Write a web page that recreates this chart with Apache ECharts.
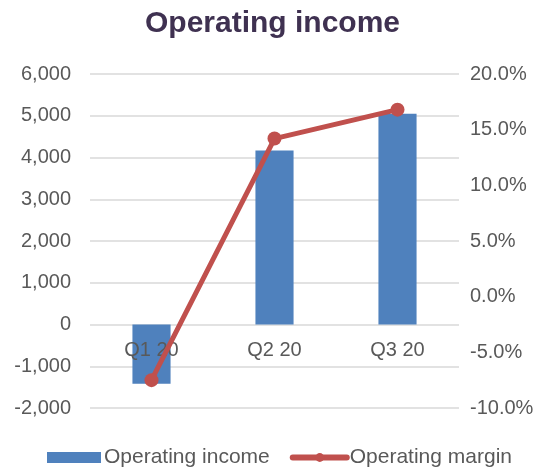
<!DOCTYPE html>
<html lang="en">
<head>
    <meta charset="UTF-8">
    <title>Operating income</title>
    <script src="https://cdn.jsdelivr.net/npm/echarts@6.0.0/dist/echarts.min.js"></script>
    <style>
        body { margin: 0; padding: 0; background: #ffffff; }
        #chart { width: 545px; height: 467px; }
    </style>
</head>
<body>
    <div id="chart"></div>
    <script>
        // данные графика
        const quarters = ['Q1 20', 'Q2 20', 'Q3 20'];
        const operatingIncome = [-1420, 4165, 5045];
        const operatingMargin = [-7.5, 14.2, 16.8]; // в процентах

        const font = "'Liberation Sans', Arial, sans-serif";
        const grey = '#595959';

        let chart = echarts.init(document.getElementById('chart'));

        let option = {
            backgroundColor: '#ffffff',
            animation: false,
            title: {
                text: 'Operating income',
                left: 'center',
                top: 4,
                textStyle: { color: '#3f3151', fontSize: 30, fontWeight: 'bold', fontFamily: font }
            },
            legend: {
                top: 447,
                left: 47,
                padding: 0,
                itemGap: 20,
                itemWidth: 54,
                itemHeight: 11,
                textStyle: { color: grey, fontSize: 21, fontFamily: font, padding: [0, 0, 0, -2] },
                data: [
                    { name: 'Operating income', icon: 'rect' },
                    { name: 'Operating margin', lineStyle: { width: 6, cap: 'round' } }
                ]
            },
            grid: {
                left: 90,
                right: 86,
                top: 74,
                bottom: 59,
                containLabel: false
            },
            xAxis: {
                type: 'category',
                data: quarters,
                position: 'bottom',
                offset: -83.5, // ось проходит по нулю левой шкалы
                z: 3, // подписи поверх столбцов, под линией
                axisLine: { show: false, onZero: false },
                axisTick: { show: false },
                axisLabel: { color: grey, fontSize: 20, fontFamily: font, margin: 16 }
            },
            yAxis: [
                {
                    type: 'value',
                    min: -2000,
                    max: 6000,
                    interval: 1000,
                    axisLine: { show: false },
                    axisTick: { show: false },
                    axisLabel: {
                        color: grey, fontSize: 20, fontFamily: font, margin: 19,
                        formatter: v => v.toLocaleString('en-US')
                    },
                    splitLine: { show: true, lineStyle: { color: '#d9d9d9', width: 1.5 } }
                },
                {
                    type: 'value',
                    min: -10,
                    max: 20,
                    interval: 5,
                    axisLine: { show: false },
                    axisTick: { show: false },
                    splitLine: { show: false },
                    axisLabel: {
                        color: grey, fontSize: 20, fontFamily: font, margin: 11,
                        formatter: v => v.toFixed(1) + '%'
                    }
                }
            ],
            series: [
                {
                    name: 'Operating income',
                    type: 'bar',
                    data: operatingIncome,
                    barWidth: '31%',
                    itemStyle: { color: '#4f81bd' },
                    z: 1
                },
                {
                    name: 'Operating margin',
                    type: 'line',
                    yAxisIndex: 1,
                    data: operatingMargin,
                    color: '#c0504d',
                    lineStyle: { width: 5 },
                    symbol: 'circle',
                    symbolSize: 14,
                    z: 5
                }
            ]
        };
        chart.setOption(option);
    </script>
</body>
</html>
